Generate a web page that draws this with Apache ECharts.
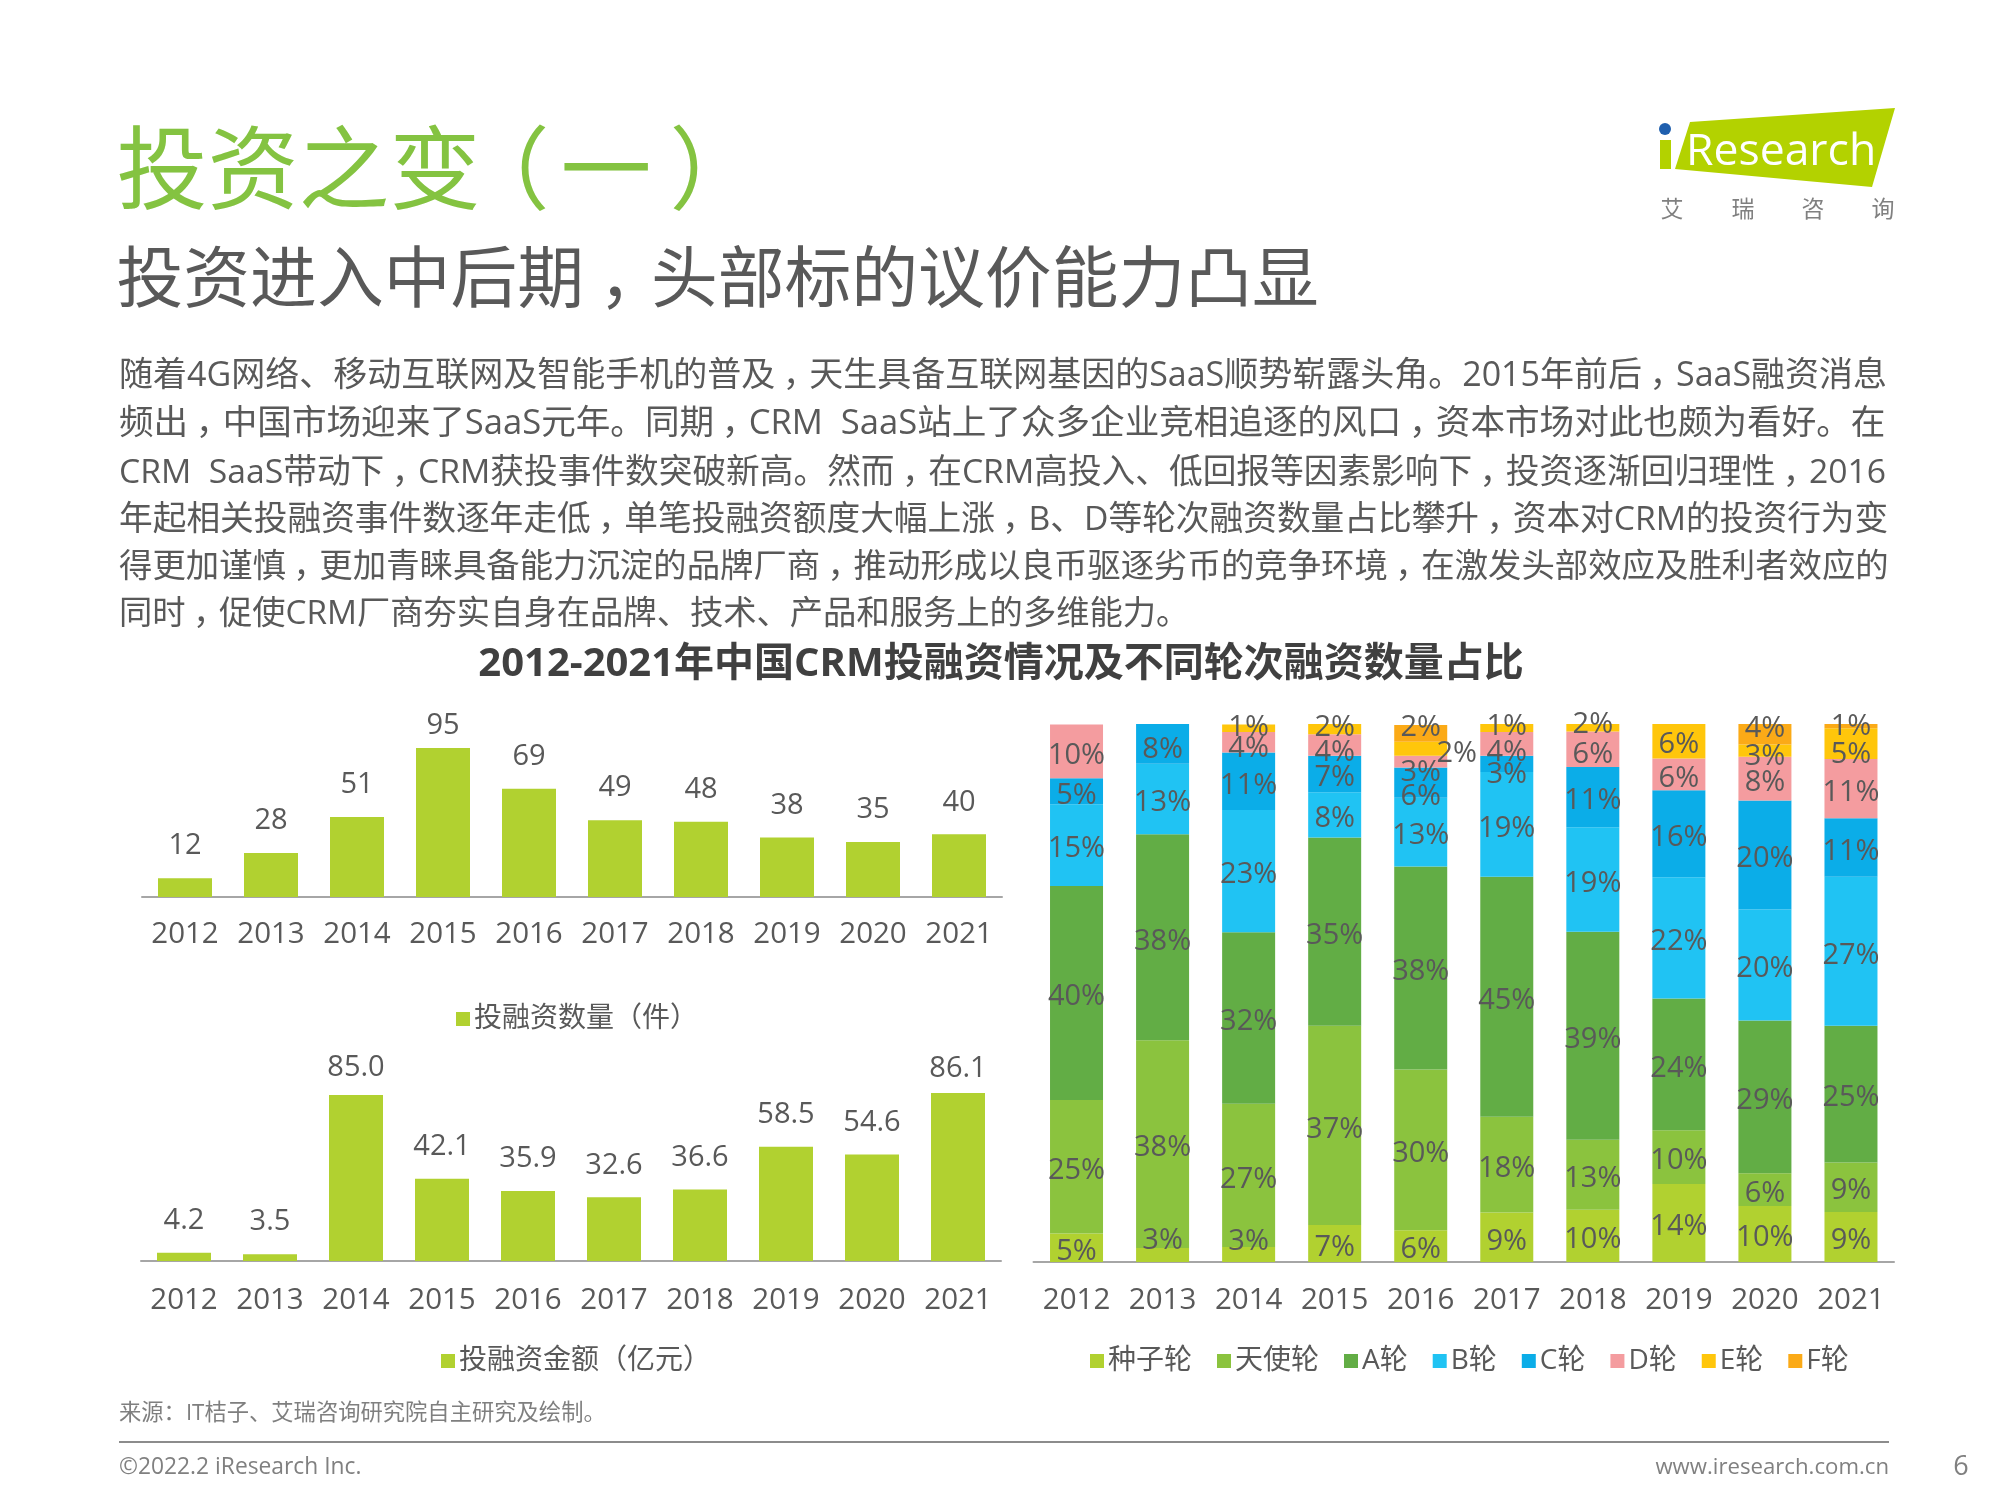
<!DOCTYPE html>
<html>
<head>
<meta charset="utf-8">
<title>投资之变（一）</title>
<style>
html,body{margin:0;padding:0;background:#fff;}
#chart{width:2000px;height:1500px;}
</style>
<script src="https://cdn.jsdelivr.net/npm/echarts@6/dist/echarts.min.js"></script>
</head>
<body>
<div id="chart"></div>
<script>
var years = ['2012','2013','2014','2015','2016','2017','2018','2019','2020','2021'];

// 左侧两张柱状图
var dealCount = [12,28,51,95,69,49,48,38,35,40];
var dealAmount = [4.2,3.5,85.0,42.1,35.9,32.6,36.6,58.5,54.6,86.1];

// 右侧堆叠柱：柱高（按图量取）
var seedShare = [5.3,2.6,2.8,6.9,5.9,9.2,9.7,14.5,10.4,9.3];
var angelShare = [24.8,38.6,26.6,37.0,29.9,17.8,13.0,10.0,6.1,9.2];
var roundAShare = [39.8,38.3,31.9,35.0,37.7,44.6,38.7,24.5,28.4,25.4];
var roundBShare = [15.2,13.1,22.7,8.4,12.8,19.5,19.4,22.5,20.6,27.7];
var roundCShare = [4.8,7.4,10.7,6.8,5.6,3.0,11.2,16.2,20.3,10.9];
var roundDShare = [10.0,null,3.8,4.0,2.2,4.4,6.6,5.9,8.1,11.0];
var roundEShare = [null,null,1.4,1.9,2.6,1.5,1.5,6.4,2.3,5.7];
var roundFShare = [null,null,null,null,3.1,null,null,null,3.9,0.8];

// 右侧堆叠柱：图上印的百分比
var seedPrinted = [5,3,3,7,6,9,10,14,10,9];
var angelPrinted = [25,38,27,37,30,18,13,10,6,9];
var roundAPrinted = [40,38,32,35,38,45,39,24,29,25];
var roundBPrinted = [15,13,23,8,13,19,19,22,20,27];
var roundCPrinted = [5,8,11,7,6,3,11,16,20,11];
var roundDPrinted = [10,null,4,4,3,4,6,6,8,11];
var roundEPrinted = [null,null,1,2,2,1,2,6,3,5];
var roundFPrinted = [null,null,null,null,2,null,null,null,4,1];

var bodyLines = [
  '随着4G网络、移动互联网及智能手机的普及，天生具备互联网基因的SaaS顺势崭露头角。2015年前后，SaaS融资消息',
  '频出，中国市场迎来了SaaS元年。同期，CRM  SaaS站上了众多企业竞相追逐的风口，资本市场对此也颇为看好。在',
  'CRM  SaaS带动下，CRM获投事件数突破新高。然而，在CRM高投入、低回报等因素影响下，投资逐渐回归理性，2016',
  '年起相关投融资事件数逐年走低，单笔投融资额度大幅上涨，B、D等轮次融资数量占比攀升，资本对CRM的投资行为变',
  '得更加谨慎，更加青睐具备能力沉淀的品牌厂商，推动形成以良币驱逐劣币的竞争环境，在激发头部效应及胜利者效应的',
  '同时，促使CRM厂商夯实自身在品牌、技术、产品和服务上的多维能力。'
];
// 每行字号微调，让两端对齐到原图的行宽
var bodyY = [376.5,424.5,473.5,520.5,567.5,614.5];
var bodySize = [34,34.6,33.7,33.7,33.4,33.3];

var font = '"Open Sans","Noto Sans CJK SC",sans-serif';
var grey = '#595959';
var lime = '#B1D130';

function textEl(text, x, y, size, color, align, weight, rich) {
  return {
    type: 'text',
    x: x,
    y: y,
    silent: true,
    style: {
      text: text,
      x: 0,
      y: 0,
      fill: color,
      font: (weight || 'normal') + ' ' + size + 'px ' + font,
      textAlign: align || 'left',
      textVerticalAlign: 'middle',
      rich: rich
    }
  };
}
// 原图的全角逗号落在字格中间
function paraEl(text, x, y, size, color) {
  var marked = text.replace(/，/g, '{c|，}');
  return textEl(marked, x, y, size, color, 'left', 'normal', {
    c: {padding: [0, 0, 0, size * 0.22], width: size * 0.78}
  });
}

var graphics = [
  textEl('{t|投资之变}{o|（}{m|一}）', 116.5, 176, 91, '#84C341', 'left', 'normal', {
    t: {width: 342},
    o: {width: 102},
    m: {width: 109}
  }),
  paraEl('投资进入中后期，头部标的议价能力凸显', 116.5, 283, 66.8, grey),
  textEl('2012-2021年中国CRM投融资情况及不同轮次融资数量占比', 1001, 664.5, 40, '#404040', 'center', 'bold'),
  textEl('来源：IT桔子、艾瑞咨询研究院自主研究及绘制。', 119, 1414, 22.3, '#7F7F7F'),
  {
    type: 'line',
    silent: true,
    shape: {x1: 119, y1: 1442, x2: 1889, y2: 1442},
    style: {stroke: '#8C8C8C', lineWidth: 2}
  },
  textEl('©2022.2 iResearch Inc.', 119, 1468, 22.8, '#808080'),
  textEl('www.iresearch.com.cn', 1889, 1468, 22.2, '#808080', 'right'),
  textEl('6', 1961, 1467, 27, '#808080', 'center'),
  // logo
  {
    type: 'polygon',
    silent: true,
    shape: {points: [[1690,122],[1895,108],[1872,187],[1675,169]]},
    style: {fill: '#B3D200'}
  },
  {
    type: 'rect',
    silent: true,
    shape: {x: 1660, y: 140, width: 11, height: 29},
    style: {fill: '#B3D200'}
  },
  {
    type: 'circle',
    silent: true,
    shape: {cx: 1665, cy: 129, r: 6},
    style: {fill: '#1F5FAE'}
  },
  textEl('Research', 1686, 152, 44.5, '#FFFFFF'),
  textEl('艾', 1672, 210, 23, '#808080', 'center'),
  textEl('瑞', 1743, 210, 23, '#808080', 'center'),
  textEl('咨', 1813, 210, 23, '#808080', 'center'),
  textEl('询', 1883, 210, 23, '#808080', 'center')
];
bodyLines.forEach(function (line, i) {
  graphics.push(paraEl(line, 119, bodyY[i], bodySize[i], grey));
});

// 原图里数据标签被手动挪动过的位置
var columnDistance = {
  '投融资数量（件）|2015': 8,
  '投融资金额（亿元）|2014': 13,
  '投融资金额（亿元）|2021': 10
};
var stackShift = {
  '种子轮|2013': -14, '种子轮|2014': -13,
  'C轮|2013': 6,
  'E轮|2014': -1, 'D轮|2014': 6,
  'E轮|2015': -1, 'D轮|2015': 8,
  'F轮|2016': -6, 'E轮|2016': 5, 'D轮|2016': 11, 'C轮|2016': 14,
  'E轮|2017': -1, 'D轮|2017': 9, 'C轮|2017': 11,
  'E轮|2018': -3, 'D轮|2018': 5,
  'F轮|2020': -5, 'E轮|2020': 6,
  'F轮|2021': 1, 'E轮|2021': 11
};

function makeXAxis(gridIndex, margin) {
  return {
    type: 'category',
    gridIndex: gridIndex,
    data: years,
    axisTick: {show: false},
    axisLine: {lineStyle: {color: '#A6A6A6', width: 2}},
    axisLabel: {color: grey, fontSize: 29.5, fontFamily: font, margin: margin, interval: 0}
  };
}
function makeYAxis(gridIndex, max) {
  return {
    type: 'value',
    gridIndex: gridIndex,
    min: 0,
    max: max,
    show: false,
    splitLine: {show: false}
  };
}
function makeColumn(name, index, values, digits) {
  var data = values.map(function (v, i) {
    var item = {value: v};
    var distance = columnDistance[name + '|' + years[i]];
    if (distance != null) {
      item.label = {distance: distance};
    }
    return item;
  });
  return {
    name: name,
    type: 'bar',
    xAxisIndex: index,
    yAxisIndex: index,
    data: data,
    barWidth: 54,
    itemStyle: {color: lime},
    label: {
      show: true,
      position: 'top',
      distance: 17.5,
      color: grey,
      fontSize: 29,
      fontFamily: font,
      formatter: function (p) { return p.value.toFixed(digits); }
    }
  };
}
function makeStack(name, color, values, printed) {
  var data = values.map(function (v, i) {
    var key = name + '|' + years[i];
    var dy = stackShift[key] != null ? stackShift[key] : 4;
    var dx = key === 'E轮|2016' ? 36 : 0;
    return {value: v, label: {offset: [dx, dy]}};
  });
  return {
    name: name,
    type: 'bar',
    stack: 'rounds',
    xAxisIndex: 2,
    yAxisIndex: 2,
    barWidth: 53,
    data: data,
    itemStyle: {color: color},
    label: {
      show: true,
      position: 'inside',
      color: grey,
      fontSize: 29,
      fontFamily: font,
      formatter: function (p) {
        return printed[p.dataIndex] == null ? '' : printed[p.dataIndex] + '%';
      }
    }
  };
}
function makeLegend(names, left, top) {
  return {
    data: names,
    left: left,
    top: top,
    itemWidth: 14,
    itemHeight: 14,
    itemGap: 25,
    icon: 'rect',
    selectedMode: false,
    textStyle: {color: grey, fontSize: 28, fontFamily: font, padding: [0, 0, 0, -1]}
  };
}

var option = {
  animation: false,
  backgroundColor: '#fff',
  textStyle: {fontFamily: font},
  grid: [
    {left: 142, width: 860, top: 701, height: 196},
    {left: 141, width: 860, top: 1056, height: 205},
    {left: 1033.5, width: 860.5, top: 724, height: 538}
  ],
  xAxis: [makeXAxis(0, 23), makeXAxis(1, 25), makeXAxis(2, 24)],
  yAxis: [makeYAxis(0, 125), makeYAxis(1, 105), makeYAxis(2, 100)],
  legend: [
    makeLegend(['投融资数量（件）'], 451, 1000),
    makeLegend(['投融资金额（亿元）'], 436, 1342),
    makeLegend(['种子轮','天使轮','A轮','B轮','C轮','D轮','E轮','F轮'], 1085, 1342)
  ],
  series: [
    makeColumn('投融资数量（件）', 0, dealCount, 0),
    makeColumn('投融资金额（亿元）', 1, dealAmount, 1),
    makeStack('种子轮', '#B1D130', seedShare, seedPrinted),
    makeStack('天使轮', '#8BC33E', angelShare, angelPrinted),
    makeStack('A轮', '#62AD45', roundAShare, roundAPrinted),
    makeStack('B轮', '#20C3F3', roundBShare, roundBPrinted),
    makeStack('C轮', '#0BADE8', roundCShare, roundCPrinted),
    makeStack('D轮', '#F49C9F', roundDShare, roundDPrinted),
    makeStack('E轮', '#FFC60B', roundEShare, roundEPrinted),
    makeStack('F轮', '#FBAA17', roundFShare, roundFPrinted)
  ],
  graphic: {elements: graphics}
};

var myChart = echarts.init(document.getElementById('chart'), null, {renderer: 'canvas', width: 2000, height: 1500});
myChart.setOption(option);
</script>
</body>
</html>
